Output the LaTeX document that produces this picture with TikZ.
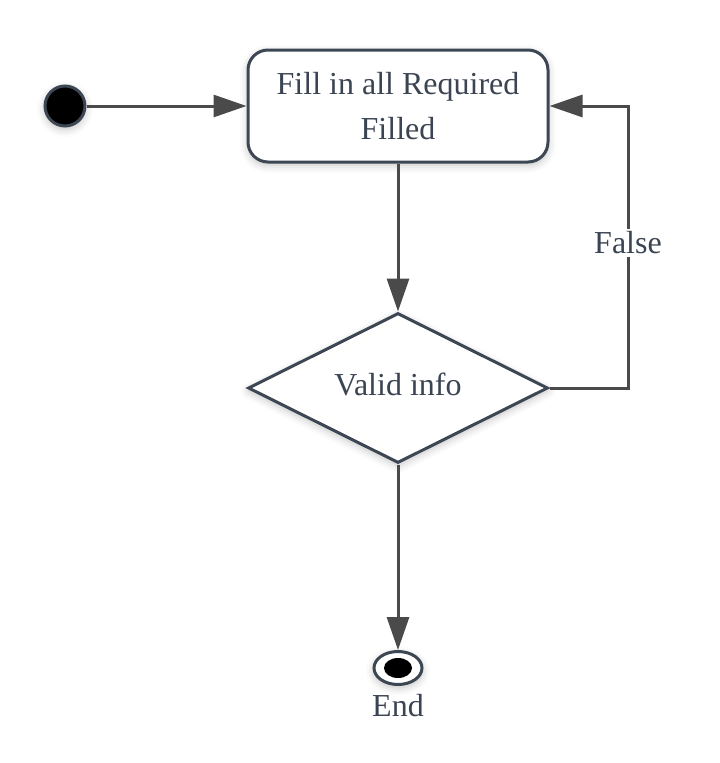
\documentclass[tikz,border=0pt]{standalone}
\usepackage{fontspec}
\setmainfont{Liberation Serif}
\usetikzlibrary{arrows.meta,shapes.geometric,shadows.blur}
\definecolor{edgeC}{HTML}{3D4753}
\definecolor{lineC}{HTML}{4A4A4A}
\definecolor{textC}{HTML}{3B4452}
\tikzset{
  softshadow/.style={blur shadow={shadow xshift=0pt,shadow yshift=-3pt,shadow blur radius=8pt,shadow opacity=25}},
  statebox/.style={draw=edgeC,line width=3pt,rounded corners=20pt,fill=white,minimum width=300pt,minimum height=112pt,align=center,text=textC,softshadow},
  decision/.style={draw=edgeC,line width=3pt,diamond,fill=white,minimum width=300pt,minimum height=150pt,inner sep=0pt,aspect=2,text=textC,softshadow},
  startdot/.style={circle,draw=edgeC,line width=3pt,fill=black,minimum size=40pt,inner sep=0pt,softshadow},
  flow/.style={draw=lineC,line width=3pt,-{Triangle[length=33pt,width=22pt]}},
  lbl/.style={text=textC,fill=white,inner sep=3pt}
}
\begin{document}
\begin{tikzpicture}[x=1pt,y=-1pt,font=\fontsize{32}{45}\selectfont]
\useasboundingbox (0,0) rectangle (720,763);
\node[startdot] (start) at (65,106) {};
\node[statebox] (fill) at (398,106) {Fill in all Required\\Filled};
\node[decision] (valid) at (398,388) {};
\node[text=textC] (validtxt) at (398,384) {Valid info};
% end node
\node[ellipse,draw=edgeC,line width=3pt,fill=white,minimum width=48pt,minimum height=33pt,inner sep=0pt,softshadow] (endo) at (398,668) {};
\node[ellipse,fill=black,minimum width=28pt,minimum height=20pt,inner sep=0pt] (endi) at (398,668) {};
\node[text=textC,anchor=base] (endlbl) at (398,716) {End};
\coordinate (c1) at (628,388);
\coordinate (c2) at (628,106);
\draw[flow] (start.east) -- (fill.west);
\draw[flow] (fill.south) -- (valid.north);
\draw[flow] (valid.south) -- (endo.north);
\draw[flow] (valid.east) -- (c1) -- (c2) -- (fill.east |- c2);
\node[lbl] (falselbl) at (628,243) {False};
\end{tikzpicture}
\end{document}
